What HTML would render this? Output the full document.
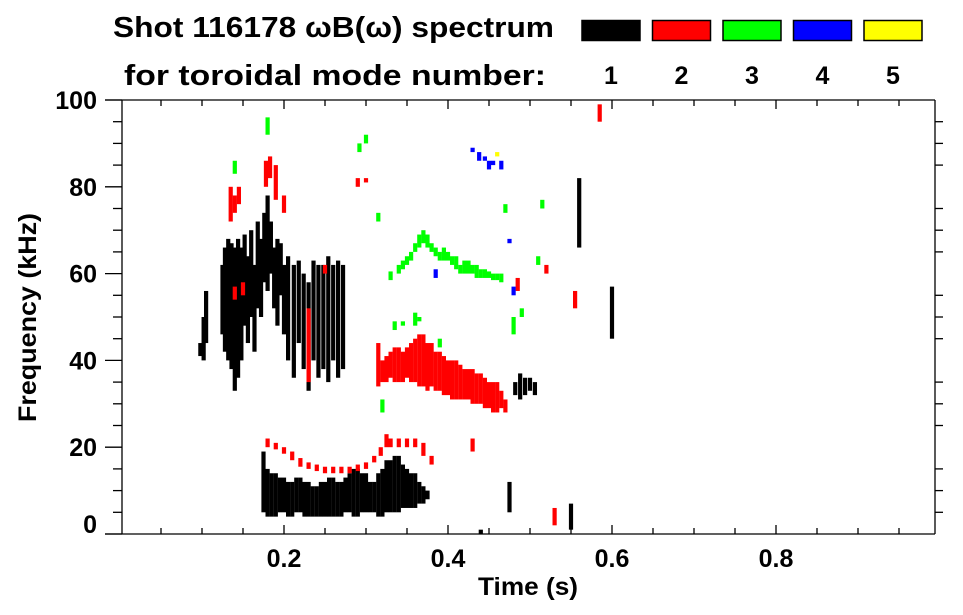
<!DOCTYPE html>
<html><head><meta charset="utf-8"><style>
html,body{margin:0;padding:0;background:#fff;}
svg{display:block;font-family:"Liberation Sans",sans-serif;font-weight:bold;}
</style></head><body>
<svg id="chart" width="963" height="615" viewBox="0 0 963 615" xmlns="http://www.w3.org/2000/svg">
<text x="113" y="37" font-size="29" textLength="441" lengthAdjust="spacingAndGlyphs">Shot 116178 ωB(ω) spectrum</text>
<text x="124" y="85" font-size="29" textLength="422" lengthAdjust="spacingAndGlyphs">for toroidal mode number:</text>
<g id="legend"></g>
<g id="marks"></g>
<g id="axes" stroke="#000" stroke-width="1.3" fill="none"></g>
<g id="labels" font-size="25"></g>
<text x="478" y="595" font-size="25" textLength="100" lengthAdjust="spacingAndGlyphs">Time (s)</text>
<text transform="translate(36,422) rotate(-90)" font-size="25" textLength="209" lengthAdjust="spacingAndGlyphs">Frequency (kHz)</text>
</svg>
<script>
const modes=["1","2","3","4","5"];
const modeColors=["#000000","#ff0000","#00ff00","#0000ff","#ffff00"];
const xTicks=[0.2,0.4,0.6,0.8];
const yTicks=[0,20,40,60,80,100];
// streaks: [time (s), low freq (kHz), high freq (kHz)]
const mode1=[
[0.098,41,44],[0.102,40,50],[0.105,44,56],[0.125,46,62],[0.128,42,66],[0.132,40,68],[0.136,38,67],[0.14,33,66],[0.144,36,68],[0.148,40,66],[0.152,48,69],[0.156,44,64],[0.16,50,70],[0.164,42,62],[0.168,52,72],[0.172,50,68],[0.176,58,74],[0.18,56,78],[0.184,60,72],[0.188,52,66],[0.192,48,68],[0.196,55,67],[0.2,46,62],
[0.205,40,64],[0.212,36,62],[0.218,44,63],[0.224,38,60],[0.23,33,58],[0.236,40,63],[0.242,36,62],[0.248,38,62],[0.254,35,64],[0.26,40,62],[0.266,36,63],[0.272,38,62],
[0.175,5,19],[0.18,4,15],[0.185,4,14],[0.19,4,14],[0.195,5,13],[0.2,5,13],[0.205,4,12],[0.21,4,12],[0.215,5,13],[0.22,5,13],[0.225,4,12],[0.23,4,12],[0.235,4,11],[0.24,4,11],[0.245,4,12],[0.25,4,12],[0.255,4,13],[0.26,4,13],[0.265,4,12],[0.27,4,12],[0.275,5,13],[0.28,5,14],[0.285,4,15],[0.29,4,15],[0.295,5,14],[0.3,5,14],[0.305,5,12],[0.31,5,12],[0.315,4,14],[0.32,4,15],[0.325,5,17],[0.33,5,17],[0.335,5,18],[0.34,5,18],[0.345,6,16],[0.35,6,15],[0.355,6,14],[0.36,6,14],[0.365,7,12],[0.37,7,11],[0.375,8,10],
[0.482,32,35],[0.488,31,37],[0.494,32,36],[0.5,33,36],[0.506,32,35],[0.56,66,82],[0.6,45,57],[0.55,1,7],[0.475,5,12],[0.44,0,1]
];
const mode2=[
[0.135,72,80],[0.14,74,78],[0.145,76,80],[0.178,80,86],[0.183,82,87],[0.19,77,85],[0.2,74,78],[0.15,55,58],[0.14,54,57],[0.23,35,52],[0.29,80,82],[0.3,81,82],[0.25,60,62],
[0.18,20,22],[0.19,19.5,21],[0.2,18.5,20],[0.21,17,19],[0.22,15.5,17.5],[0.23,15,16.5],[0.24,14.5,16],[0.25,14,15.5],[0.26,14,15.5],[0.27,14,15.5],[0.28,14,15.5],[0.29,14.5,16],[0.3,15,16.5],[0.31,16.5,18],[0.318,18,20],[0.325,20,23],[0.33,20,22],[0.34,20,22],[0.35,20,22],[0.36,20,22],[0.37,18,21],[0.38,16,18],
[0.315,34,44],[0.32,35,40],[0.325,35,41],[0.33,36,42],[0.335,35,43],[0.34,35,43],[0.345,35,42],[0.35,36,43],[0.355,35,44],[0.36,35,45],[0.365,34,46],[0.37,34,46],[0.375,33,44],[0.38,34,44],[0.385,33,42],[0.39,33,42],[0.395,32,41],[0.4,32,40],[0.405,31,40],[0.41,31,40],[0.415,31,39],[0.42,31,38],[0.425,31,38],[0.43,30,38],[0.435,30,37],[0.44,30,37],[0.445,29,36],[0.45,29,35],[0.455,28,35],[0.46,28,35],[0.465,29,33],[0.47,28,31],
[0.485,56,59],[0.52,60,62],[0.555,52,56],[0.585,95,99],[0.43,19,22],[0.53,2,6]
];
const mode3=[
[0.14,83,86],[0.18,92,96],[0.3,90,92],[0.292,88,90],[0.315,72,74],[0.32,28,31],
[0.33,58.5,60.5],[0.34,60,62],[0.345,61,63],[0.35,62,64],[0.355,63,65],[0.36,65,67],[0.365,66,69],[0.37,67,70],[0.375,66,69],[0.38,65,67],[0.385,64,66],[0.39,63,65],[0.395,63,66],[0.4,63,65],[0.405,62,64],[0.41,61,64],[0.415,60,62],[0.42,60,63],[0.425,60,63],[0.43,60,62],[0.435,59,62],[0.44,59,61],[0.445,59,61],[0.45,59,60.5],[0.455,58.5,60],[0.46,58.5,60],[0.465,58,60],
[0.335,47,49],[0.345,48,49],[0.36,48,51],[0.365,49,50],[0.39,43,45],[0.48,46,50],[0.49,50,52],[0.47,74,76],[0.515,75,77],[0.51,62,64]
];
const mode4=[
[0.43,88,89],[0.438,86,88],[0.445,86,87],[0.45,84,86],[0.455,85,86],[0.465,84,86],[0.385,59,61],[0.48,55,57],[0.475,67,68]
];
const mode5=[[0.46,87,88]];
const series=[mode1,mode2,mode3,mode4,mode5];

const NS="http://www.w3.org/2000/svg";
const L=122,R=935,T=100,B=534;
function X(t){return 120+t*820;}
function Y(f){return B-f*(B-T)/100;}
function mk(tag,attrs,parent){const e=document.createElementNS(NS,tag);for(const k in attrs)e.setAttribute(k,attrs[k]);parent.appendChild(e);return e;}

// legend
const lg=document.getElementById('legend');
modes.forEach((m,i)=>{
  const cx=611+i*70.5;
  const r=mk('rect',{x:cx-29,y:20.5,width:58,height:20,fill:modeColors[i],stroke:'#000','stroke-width':1.5},lg);
  
  
  const t=mk('text',{x:cx,y:84,'font-size':25,'text-anchor':'middle'},lg);
  t.textContent=m;
  
  
});

// marks
const mg=document.getElementById('marks');
series.forEach((s,i)=>{
  s.forEach(d=>{
    const x=X(d[0]);const y1=Y(d[2]);const y2=Y(d[1]);
    const r=mk('rect',{x:x-2.1,y:y1,width:4.2,height:Math.max(1.5,y2-y1),fill:modeColors[i]},mg);
    
    
  });
});

// axes
const ax=document.getElementById('axes');
mk('line',{x1:105,y1:B,x2:R,y2:B},ax);
mk('line',{x1:105,y1:T,x2:R,y2:T},ax);
mk('line',{x1:L,y1:T,x2:L,y2:B},ax);
mk('line',{x1:R,y1:T,x2:R,y2:B},ax);
for(let v=0.05;v<0.99;v+=0.05){
  const major=Math.abs(v*5-Math.round(v*5))<1e-6;
  const x=X(v);const len=major?9:6;
  mk('line',{x1:x,y1:B,x2:x,y2:B-len},ax);
  mk('line',{x1:x,y1:T,x2:x,y2:T+len},ax);
}
for(let f=0;f<=100;f+=5){
  const major=f%20===0;const y=Y(f);
  mk('line',{x1:L,y1:y,x2:major?105:113,y2:y},ax);
  mk('line',{x1:R,y1:y,x2:R+(major?0:8),y2:y},ax);
}
const lb=document.getElementById('labels');
xTicks.forEach(v=>{
  const t=mk('text',{x:X(v),y:567,'text-anchor':'middle'},lb);
  t.textContent=v.toFixed(1);
  
  
});
yTicks.forEach(v=>{
  const yy=v===0?533:Y(v)+9;
  const t=mk('text',{x:97,y:yy,'text-anchor':'end'},lb);
  t.textContent=String(v);
  
  
});
</script>
</body></html>
